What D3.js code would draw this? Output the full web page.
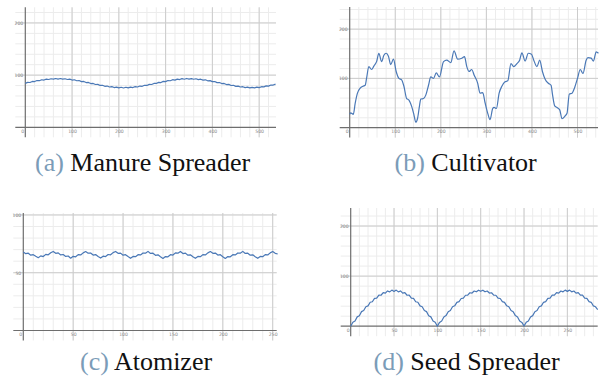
<!DOCTYPE html>
<html>
<head>
<meta charset="utf-8">
<script src="https://cdn.jsdelivr.net/npm/d3@7"></script>
</head>
<body style="margin:0">
<div id="chart"></div>
<script>
// Manure spreader, sampled every 5 units from 0 to 535
const manureStep = 5;
const manureY = [
  84.2, 86.0, 85.9, 87.9, 87.7, 89.6, 89.3, 91.1, 90.6, 92.3,
  91.6, 93.1, 92.2, 93.5, 92.4, 93.5, 92.2, 93.1, 91.6, 92.3,
  90.6, 91.1, 89.2, 89.6, 87.6, 87.9, 85.8, 86.0, 83.9, 84.1,
  82.0, 82.3, 80.2, 80.6, 78.6, 79.1, 77.3, 77.9, 76.2, 77.1,
  75.6, 76.7, 75.4, 76.7, 75.6, 77.1, 76.2, 77.9, 77.2, 79.1,
  78.6, 80.6, 80.2, 82.3, 82.0, 84.1,
  84.0, 86.1, 85.8, 88.0, 87.6, 89.7, 89.2, 91.2, 90.5, 92.4,
  91.5, 93.2, 92.1, 93.6, 92.3, 93.4, 92.1, 93.0, 91.5, 92.2,
  90.5, 91.0, 89.1, 89.5, 87.5, 87.8, 85.7, 85.9, 83.8, 84.0,
  81.9, 82.2, 80.1, 80.5, 78.5, 79.0, 77.2, 77.8, 76.1, 77.0,
  75.5, 76.6, 75.5, 77.0, 76.0, 77.8, 77.4, 79.4, 79.0, 81.1,
  81.0, 82.8
];

// Cultivator, read point by point
const cultivatorX = [0, 2, 8, 12, 17, 23, 29, 34, 37, 42, 48, 53, 59, 64, 70, 75, 80, 85, 90, 96,
  102, 108, 114, 119, 125, 130, 136, 141, 145, 149, 153, 156, 162, 167, 173, 178, 184, 190, 197, 206,
  213, 222, 229, 237, 246, 252, 257, 262, 268, 273, 281, 286, 292, 297, 303, 308, 314, 317, 322, 328,
  334, 341, 347, 354, 360, 367, 373, 378, 385, 392, 399, 404, 411, 417, 423, 429, 436, 442, 445, 450,
  455, 461, 466, 473, 477, 482, 488, 494, 500, 506, 512, 519, 523, 530, 535, 541, 546];
const cultivatorY = [27, 30, 27, 49, 70, 80, 84, 86, 100, 124, 118, 125, 134, 151, 134, 147, 151, 145, 128, 139,
  114, 100, 97, 84, 59, 56, 43, 26, 11, 19, 43, 58, 59, 66, 86, 103, 100, 111, 103, 134,
  137, 132, 156, 139, 141, 144, 124, 114, 118, 107, 90, 70, 71, 51, 29, 16, 39, 41, 39, 70,
  84, 93, 95, 130, 124, 130, 137, 152, 135, 151, 149, 137, 124, 137, 114, 98, 90, 86, 68, 44,
  41, 36, 18, 24, 29, 68, 70, 82, 100, 118, 110, 137, 142, 141, 135, 154, 151];

// Atomizer, sampled every 2.5 units from 0 to 255
const atomizerStep = 2.5;
const atomizerY = [
  68.0, 66.5, 66.9, 65.2, 65.6, 64.2, 63.0, 64.6, 64.0, 65.9,
  65.5, 67.3, 68.4, 66.8, 67.2, 65.4, 65.8, 64.1, 64.5, 62.6,
  64.2, 63.8, 65.7, 65.4, 67.2, 68.3, 66.9, 67.1, 65.3, 65.7,
  64.0, 62.7, 64.3, 64.0, 65.8, 65.5, 67.4, 68.4, 66.8, 67.0,
  65.2, 65.6, 64.0, 62.5, 64.1, 63.9, 65.6, 65.4, 67.1, 66.9,
  68.5, 66.7, 66.9, 65.1, 65.5, 63.9, 62.4, 64.0, 63.8, 65.6,
  65.3, 67.2, 66.9, 68.4, 66.6, 67.0, 65.2, 65.5, 63.8, 62.5,
  64.1, 63.9, 65.7, 65.4, 67.2, 68.3, 66.8, 67.0, 65.3, 65.6,
  63.9, 62.4, 64.0, 63.8, 65.6, 65.4, 67.1, 66.9, 68.5, 66.7,
  66.9, 65.2, 65.5, 63.9, 62.5, 64.1, 63.9, 65.7, 65.4, 67.2,
  68.3, 66.8, 66.2
];

// Seed spreader, sampled every 2.5 units from 0 to 285
const seedStep = 2.5;
const seedY = [
  0, 7.8, 10.3, 18.6, 21.0, 29.1, 31.2, 38.9, 40.5, 47.8,
  48.9, 55.5, 56.0, 62.0, 61.8, 67.0, 66.0, 70.4, 68.5, 72.1,
  69.4, 72.1, 68.5, 70.4, 66.0, 67.0, 61.8, 62.0, 56.0, 55.5,
  48.9, 47.8, 40.5, 38.9, 31.2, 29.1, 21.0, 18.6, 10.3, 7.8,
  0,
  7.6, 10.5, 18.4, 21.2, 28.9, 31.4, 38.7, 40.7, 47.6, 49.1,
  55.3, 56.2, 61.8, 62.0, 66.8, 66.2, 70.2, 68.7, 71.9, 69.6,
  71.9, 68.7, 70.2, 66.2, 66.8, 62.0, 61.8, 56.2, 55.3, 49.1,
  47.6, 40.7, 38.7, 31.4, 28.9, 21.2, 18.4, 10.5, 7.6, 0.3,
  7.7, 10.4, 18.5, 21.1, 29.0, 31.3, 38.8, 40.6, 47.7, 49.0,
  55.4, 56.1, 61.9, 61.9, 66.9, 66.1, 70.3, 68.6, 72.0, 69.5,
  72.0, 68.6, 70.3, 66.1, 66.9, 61.9, 61.9, 56.1, 55.4, 49.0,
  47.7, 40.6, 38.8, 33.0
];

const captionTags = ['(a)', '(b)', '(c)', '(d)'];
const captionNames = ['Manure Spreader', 'Cultivator', 'Atomizer', 'Seed Spreader'];

const width = 607, height = 381;
const lineColor = '#4a78b6';

const svg = d3.select('#chart').append('svg')
  .attr('width', width)
  .attr('height', height)
  .style('display', 'block');

function drawPanel(p, points, curve) {
  const x = d3.scaleLinear().domain([0, p.xMax]).range([p.left, p.right]);
  const y = d3.scaleLinear().domain([0, p.yMax]).range([p.bottom, p.top]);
  const ext = 10; // grid runs a little past the axes
  const g = svg.append('g');

  // minor grid
  g.append('g').selectAll('line')
    .data(d3.range(p.xMinor, p.xMax, p.xMinor))
    .join('line')
    .attr('x1', d => x(d)).attr('x2', d => x(d))
    .attr('y1', p.top).attr('y2', p.bottom + ext)
    .attr('stroke', '#ececec').attr('stroke-width', 1);
  g.append('g').selectAll('line')
    .data(d3.range(p.yMinor, p.yMax, p.yMinor))
    .join('line')
    .attr('x1', p.left - ext).attr('x2', p.right)
    .attr('y1', d => y(d)).attr('y2', d => y(d))
    .attr('stroke', '#ececec').attr('stroke-width', 1);

  // major grid
  g.append('g').selectAll('line')
    .data(p.xTicks.filter(d => d > 0))
    .join('line')
    .attr('x1', d => x(d)).attr('x2', d => x(d))
    .attr('y1', p.top).attr('y2', p.bottom + ext)
    .attr('stroke', '#cccccc').attr('stroke-width', 1);
  g.append('g').selectAll('line')
    .data(p.yTicks)
    .join('line')
    .attr('x1', p.left - ext).attr('x2', p.right)
    .attr('y1', d => y(d)).attr('y2', d => y(d))
    .attr('stroke', '#cccccc').attr('stroke-width', 1);

  // axes lines
  g.append('line')
    .attr('x1', p.left).attr('x2', p.left)
    .attr('y1', p.top).attr('y2', p.bottom + ext)
    .attr('stroke', '#6e6e6e').attr('stroke-width', 1.2);
  g.append('line')
    .attr('x1', p.left - ext).attr('x2', p.right)
    .attr('y1', p.bottom).attr('y2', p.bottom)
    .attr('stroke', '#6e6e6e').attr('stroke-width', 1.2);

  // tick labels
  const xAxis = g.append('g')
    .attr('transform', `translate(0,${p.bottom})`)
    .call(d3.axisBottom(x).tickValues(p.xTicks).tickSize(0).tickPadding(2.5));
  const yAxis = g.append('g')
    .attr('transform', `translate(${p.left},0)`)
    .call(d3.axisLeft(y).tickValues(p.yTicks).tickSize(0).tickPadding(2));
  [xAxis, yAxis].forEach(a => {
    a.attr('font-family', null).attr('font-size', null);
    a.select('.domain').remove();
    a.selectAll('text')
      .attr('fill', '#8a8a8a')
      .attr('font-family', 'DejaVu Sans')
      .attr('font-size', 4.6);
  });
  xAxis.selectAll('.tick').filter(d => d === 0).select('text').attr('x', -3);

  // series
  const line = d3.line()
    .x(d => x(d[0]))
    .y(d => y(d[1]))
    .curve(curve);
  g.append('path')
    .datum(points)
    .attr('d', line)
    .attr('fill', 'none')
    .attr('stroke', lineColor)
    .attr('stroke-width', 1.2)
    .attr('stroke-linejoin', 'round');
}

drawPanel({ left: 25.3, right: 276, bottom: 127.3, top: 7.3, xMax: 536, yMax: 230,
  xMinor: 20, yMinor: 20, xTicks: [0, 100, 200, 300, 400, 500], yTicks: [100, 200] },
  manureY.map((v, i) => [i * manureStep, v]), d3.curveLinear);

drawPanel({ left: 349.7, right: 598, bottom: 127.6, top: 7, xMax: 545, yMax: 245,
  xMinor: 20, yMinor: 20, xTicks: [0, 100, 200, 300, 400, 500], yTicks: [100, 200] },
  cultivatorX.map((v, i) => [v, cultivatorY[i]]), d3.curveMonotoneX);

drawPanel({ left: 23.3, right: 276.7, bottom: 330.5, top: 213, xMax: 254, yMax: 101.7,
  xMinor: 10, yMinor: 10, xTicks: [0, 50, 100, 150, 200, 250], yTicks: [50, 100] },
  atomizerY.map((v, i) => [i * atomizerStep, v]), d3.curveLinear);

drawPanel({ left: 350.7, right: 597.7, bottom: 326.2, top: 208, xMax: 285, yMax: 236,
  xMinor: 10, yMinor: 20, xTicks: [0, 50, 100, 150, 200, 250], yTicks: [100, 200] },
  seedY.map((v, i) => [i * seedStep, v]), d3.curveLinear);

// captions: plain serif text, no stretching; one font size sized to the reference widths
const capPos = [
  { x: 35, y: 171, w: 220 },
  { x: 394.5, y: 171, w: 148 },
  { x: 80, y: 369.5, w: 132 },
  { x: 373.5, y: 369.5, w: 210 }
];
const capTexts = captionTags.map((tag, i) => {
  const t = svg.append('text')
    .attr('x', capPos[i].x)
    .attr('y', capPos[i].y)
    .attr('font-family', 'Liberation Serif')
    .attr('font-size', 22);
  t.append('tspan').attr('fill', '#7b9cb8').text(tag);
  t.append('tspan').attr('fill', '#111').text(' ' + captionNames[i]);
  return t;
});
const ratio = d3.mean(capTexts, (t, i) => capPos[i].w / t.node().getComputedTextLength());
const capSize = Math.min(26, 22 * ratio);
capTexts.forEach(t => t.attr('font-size', capSize));
</script>
</body>
</html>
